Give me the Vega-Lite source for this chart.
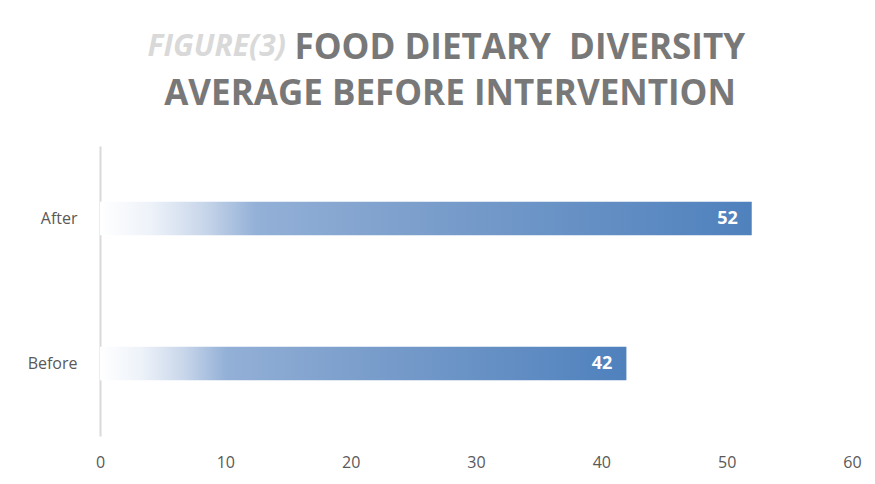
{
  "$schema": "https://vega.github.io/schema/vega-lite/v6.json",
  "width": 752,
  "height": 290,
  "autosize": {"type": "none"},
  "padding": {"left": 100, "top": 146, "right": 23, "bottom": 48},
  "background": "white",
  "title": {
    "text": ["FOOD DIETARY\u00a0\u00a0DIVERSITY", "AVERAGE BEFORE INTERVENTION\u00a0\u200b"],
    "anchor": "end",
    "align": "right",
    "frame": "group",
    "orient": "top",
    "dx": -107,
    "offset": -81,
    "font": "Open Sans",
    "fontSize": 35,
    "fontWeight": "bold",
    "color": "#787878",
    "lineHeight": 46
  },
  "data": {
    "values": [
      {"period": "After", "value": 52},
      {"period": "Before", "value": 42}
    ]
  },
  "encoding": {
    "y": {
      "field": "period",
      "type": "nominal",
      "sort": ["After", "Before"],
      "scale": {"paddingInner": 0.77, "paddingOuter": 0.385},
      "axis": {
        "title": "FIGURE(3)",
        "titleAngle": 0,
        "titleAlign": "left",
        "titleBaseline": "alphabetic",
        "titleX": 47,
        "titleY": -91,
        "titleFont": "Open Sans",
        "titleFontSize": 30,
        "titleFontStyle": "italic",
        "titleFontWeight": "bold",
        "titleColor": "#d9d9d9",
        "domain": true,
        "domainColor": "#d9d9d9",
        "domainWidth": 2,
        "ticks": false,
        "grid": false,
        "labelPadding": 23,
        "labelFont": "Open Sans",
        "labelFontSize": 16,
        "labelColor": "#595959"
      }
    },
    "x": {
      "field": "value",
      "type": "quantitative",
      "scale": {"domain": [0, 60]},
      "axis": {
        "title": null,
        "domain": false,
        "ticks": false,
        "grid": false,
        "values": [0, 10, 20, 30, 40, 50, 60],
        "labelFlush": false,
        "labelPadding": 18,
        "labelFont": "Open Sans",
        "labelFontSize": 16,
        "labelColor": "#595959"
      }
    }
  },
  "layer": [
    {
      "mark": {
        "type": "bar",
        "fill": {
          "gradient": "linear",
          "x1": 0, "y1": 0, "x2": 1, "y2": 0,
          "stops": [
            {"offset": 0, "color": "#ffffff"},
            {"offset": 0.08, "color": "#edf2f9"},
            {"offset": 0.16, "color": "#c8d6ea"},
            {"offset": 0.24, "color": "#93b0d7"},
            {"offset": 0.45, "color": "#7fa1cd"},
            {"offset": 1, "color": "#4f81bd"}
          ]
        }
      }
    },
    {
      "mark": {
        "type": "text",
        "align": "right",
        "baseline": "middle",
        "dx": -14,
        "color": "white",
        "font": "Open Sans",
        "fontWeight": "bold",
        "fontSize": 18
      },
      "encoding": {
        "text": {"field": "value", "type": "quantitative"}
      }
    }
  ],
  "config": {"view": {"stroke": null}}
}
